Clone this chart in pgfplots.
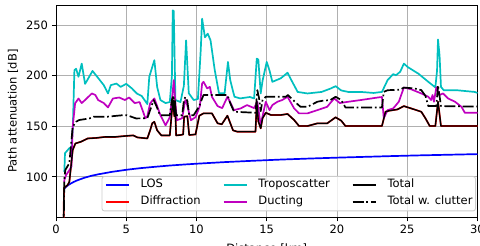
\documentclass[border=0pt]{standalone}
\usepackage{fontspec}
\setmainfont{DejaVu Sans}
\usepackage{pgfplots}
\pgfplotsset{compat=1.18}

\definecolor{mplc}{rgb}{0,0.75,0.75}
\definecolor{mplm}{rgb}{0.75,0,0.75}
\definecolor{mplb}{rgb}{0,0,1}
\definecolor{mplr}{rgb}{1,0,0}
\definecolor{gridgray}{HTML}{B0B0B0}
\definecolor{legframe}{HTML}{CCCCCC}

\begin{document}
\fontsize{11.5}{13.8}\selectfont
\begin{tikzpicture}
\useasboundingbox (-56pt,-28.7pt) rectangle (424pt,217.3pt);
\begin{axis}[
  scale only axis,
  width=421.5pt, height=212.3pt,
  xmin=0, xmax=30, ymin=60, ymax=270,
  xtick={0,5,...,30}, ytick={100,150,200,250},
  tick pos=left,
  tick align=outside,
  major tick length=4pt,
  grid=major,
  major grid style={gridgray, line width=0.9pt},
  axis line style={line width=0.9pt},
  tick style={black, line width=0.9pt},
  /pgf/number format/assume math mode=true,
  ticklabel style={font=\fontsize{11.5}{13.8}\selectfont},
  label style={font=\fontsize{11.5}{13.8}\selectfont},
  xlabel={Distance [km]},
  xlabel style={yshift=-2pt},
  ylabel={Path attenuation [dB]},
  legend columns=2,
  transpose legend,
  legend cell align=left,
  legend image code/.code={\draw[#1, line width=1.7pt] (0pt,0pt) -- (23pt,0pt);},
  legend style={
    at={(1,0)}, anchor=south east, xshift=-1.5pt, yshift=5.9pt,
    draw=legframe, line width=0.9pt, rounded corners=2.5pt,
    fill=white, fill opacity=0.8, text opacity=1,
    inner xsep=3pt, inner ysep=3.5pt,
    font=\fontsize{11.5}{13.8}\selectfont,
    nodes={inner sep=0pt, text height=8pt, text depth=2.5pt},
    row sep=6.5pt,
    /tikz/every odd column/.append style={column sep=11pt},
    /tikz/every even column/.append style={column sep=22pt},
  },
  every axis plot/.append style={line width=1.7pt, line join=round},
]

% line of sight
\addplot[mplb] coordinates {
(0.57,88.1) (0.7,89.9) (0.85,91.6) (1,93.0) (1.25,94.9) (1.5,96.5) (2,99.0)
(2.5,101.0) (3,102.5) (4,105.0) (5,107.0) (6,108.6) (7,109.9) (8,111.1)
(9,112.1) (10,113.0) (12,114.6) (14,115.9) (16,117.1) (18,118.1) (20,119.0)
(22,119.8) (24,120.6) (26,121.3) (28,121.9) (30,122.5)};
\addlegendentry{LOS}

% diffraction (coincides with the total almost everywhere)
\addplot[mplr] table {
0.52 30
0.57 89
0.83 92
0.95 95
1.19 126.6
1.38 133
1.79 134.8
2.26 138
2.86 138.5
3.5 139.5
4.2 139.5
5.0 140.5
5.5 141
5.8 139
6.5 138
6.7 146
6.85 153
7.0 154.5
7.2 146
7.5 141
8.1 141
8.25 165
8.33 176
8.42 160
8.47 176
8.55 141
8.86 141.4
9.05 142
9.12 159.5
9.35 160
9.48 141.4
9.93 142
10.2 160.5
10.5 162.8
11.1 162.8
11.5 153
11.8 152
12.2 160.5
12.6 146
12.9 144.7
14.2 144.7
14.29 174.3
14.4 155
14.57 148
14.7 158
14.93 163.4
15.3 161.2
16.0 161.2
16.48 162.2
16.95 156.2
17.3 150.3
17.9 150.3
18.6 152.9
19.3 152.9
19.9 158.9
20.3 155.6
20.6 150.3
23.2 150.3
23.45 164.4
23.7 165.4
24.3 166.7
24.76 170
25.5 166.7
26.0 164.4
26.3 157.8
26.6 150.3
27.0 150.3
27.19 174.3
27.4 150.3
30 150.3
};
\addlegendentry{Diffraction}

% troposcatter
\addplot[mplc] table {
0.58 105
0.6 107
0.64 123.4
0.8 126
0.95 128.3
1.1 129
1.2 150
1.31 205.5
1.43 207
1.6 199
1.83 212
2.07 192
2.2 195
2.6 204.8
3.0 197.8
3.4 190.7
3.7 182.5
3.9 190.7
4.3 192.3
4.6 189
5.0 192
5.4 187.5
5.75 182.5
6.1 180
6.5 172
6.64 199
7.0 215.4
7.2 189
7.43 176
7.8 173
8.1 174
8.25 200
8.31 264.7
8.38 264
8.5 176
8.86 174
9.1 190
9.26 235
9.45 182.7
9.8 176
10.1 177
10.3 225
10.4 256.5
10.6 238
10.8 241.7
11.0 235
11.3 205.5
11.6 182.7
12.0 182.7
12.24 213.7
12.4 195.7
12.7 179.3
13.1 177.6
13.8 179
14.1 177.6
14.29 217
14.4 216
14.57 182.5
14.7 195
15.0 213.7
15.2 205
15.4 194
16.0 197.5
16.48 203
16.7 197
17.2 184
17.9 182.5
18.9 184
19.57 187.5
19.9 189.7
20.3 185.5
20.8 184
21.7 184
22.6 183
23.2 184
23.6 195.7
24.0 201.6
24.2 200.5
24.5 204
24.76 212
25.05 208.5
25.8 202
26.5 194
27.0 188.5
27.12 205
27.19 235.8
27.3 220
27.4 189
27.6 185.6
28.6 185.6
29.8 184
30 183
};
\addlegendentry{Troposcatter}

% ducting
\addplot[mplm] table {
0.58 95
0.6 97
0.71 101.6
0.95 106.6
1.1 110
1.19 149.6
1.36 172.7
1.6 177.5
1.83 173
2.07 176
2.55 182.5
2.8 181
3.0 176
3.4 173
3.7 168.7
4.05 177.5
4.5 178.5
4.9 176
5.2 178.5
5.6 173
5.95 174
6.2 164.4
6.36 158
6.5 160
6.7 172.7
7.0 177.6
7.2 170
7.43 161
7.8 151
8.1 159
8.3 182.7
8.38 195.7
8.5 173
8.6 156
8.98 158
9.2 176
9.3 173
9.6 156
9.93 159
10.24 170
10.4 192.4
10.5 194
10.76 187.5
10.95 189
11.1 179.2
11.5 170
11.83 168
12.2 179.2
12.43 173
12.67 166
13.14 167.7
13.6 171
14.1 168
14.33 174.3
14.45 162.8
14.57 151
14.7 160
14.93 174.3
15.2 166
15.4 171
15.76 174.3
16.1 176
16.48 179.2
16.95 167.7
17.3 162.8
17.9 162.8
18.6 166
19.3 169.3
19.8 177.6
20.2 173
20.8 174.3
21.7 176
22.9 178.5
23.2 179
23.33 158
23.6 166
24.0 167.7
24.4 174.3
24.76 188.4
25.3 186.5
26.0 182.5
26.5 179.2
26.7 176
26.8 181
26.9 174.3
27.07 188.7
27.3 181
27.55 182.5
27.9 177.6
28.4 174.3
28.86 169.3
29.1 163.4
30 163.4
};
\addlegendentry{Ducting}

% total
\addplot[black, line width=1.4pt] table {
0.52 30
0.57 89
0.83 92
0.95 95
1.19 126.6
1.38 133
1.79 134.8
2.26 138
2.86 138.5
3.5 139.5
4.2 139.5
5.0 140.5
5.5 141
5.8 139
6.5 138
6.7 146
6.85 153
7.0 154.5
7.2 146
7.5 141
8.1 141
8.25 165
8.33 176
8.42 160
8.47 176
8.55 141
8.86 141.4
9.05 142
9.12 159.5
9.35 160
9.48 141.4
9.93 142
10.2 160.5
10.5 162.8
11.1 162.8
11.5 153
11.8 152
12.2 160.5
12.6 146
12.9 144.7
14.2 144.7
14.29 174.3
14.4 155
14.57 148
14.7 158
14.93 163.4
15.3 161.2
16.0 161.2
16.48 162.2
16.95 156.2
17.3 150.3
17.9 150.3
18.6 152.9
19.3 152.9
19.9 158.9
20.3 155.6
20.6 150.3
23.2 150.3
23.45 164.4
23.7 165.4
24.3 166.7
24.76 170
25.5 166.7
26.0 164.4
26.3 157.8
26.6 150.3
27.0 150.3
27.19 174.3
27.4 150.3
30 150.3
};
\addlegendentry{Total}

% total including clutter losses
\addplot[black, dash pattern=on 11pt off 2.8pt on 1.7pt off 2.8pt] table {
0.52 30
0.6 100
0.67 107
0.95 113.5
1.19 149.6
1.43 154.5
1.64 156.2
2.38 157.8
2.67 159.5
3.57 159.4
4.76 161
5.05 161
5.7 157.8
6.5 158
6.75 168
6.95 176
7.15 170
7.4 161
8.1 161
8.25 176
8.33 179
8.45 176
8.55 161
8.98 161
9.1 175
9.2 179
9.35 175
9.48 161
9.8 161
10.2 170
10.4 177.6
10.5 180.9
12.2 180.9
12.4 173
12.67 164.4
14.2 163.4
14.33 185.8
14.45 178
14.57 165
14.7 176
14.93 179.2
16.36 179.2
16.5 181
17.1 173
17.4 169.3
17.9 169.3
18.6 174.3
19.05 175.5
19.5 175.8
19.9 179.2
20.3 176
20.6 168.7
23.2 168.7
23.33 184.1
23.6 185.7
24.5 186.3
24.76 188.3
25.5 187.5
26.0 185.8
26.3 180
26.5 170
27.07 170
27.19 190.7
27.4 170
30 169.5
};
\addlegendentry{Total w. clutter}

\end{axis}
\end{tikzpicture}
\end{document}
